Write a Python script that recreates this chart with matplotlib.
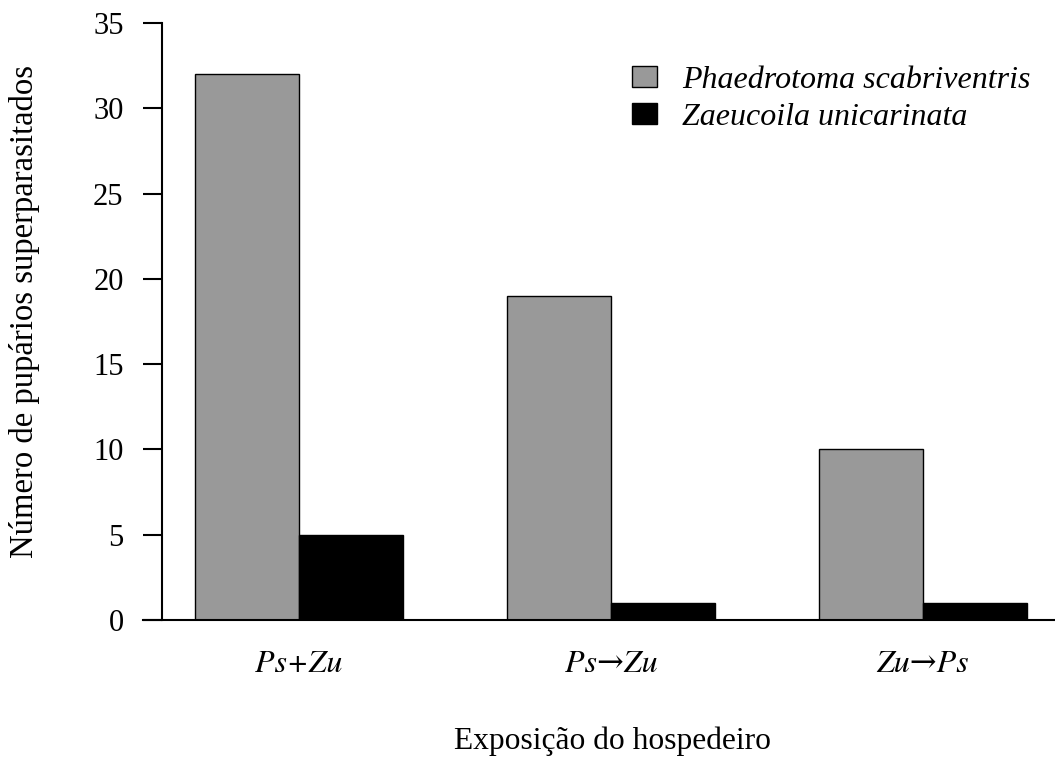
import matplotlib
matplotlib.use("Agg")
import matplotlib.pyplot as plt
import numpy as np

plt.rcParams['font.family'] = ['Liberation Serif', 'DejaVu Serif']

groups = ["Ps+Zu", "Ps\u2192Zu", "Zu\u2192Ps"]
series_names = ["Phaedrotoma scabriventris", "Zaeucoila unicarinata"]
phaedrotoma = [32, 19, 10]
zaeucoila = [5, 1, 1]

fs = 22
fig = plt.figure(figsize=(10.55, 7.7), dpi=100)
ax = fig.add_axes([143 / 1055, 150 / 770, 1 - 143 / 1055, 597 / 770])

# R barplot layout: width 1, space 1 before each group
left = np.array([1, 4, 7])
ax.bar(left, phaedrotoma, width=1, align="edge", color="#999999",
       edgecolor="black", linewidth=1, label=series_names[0])
ax.bar(left + 1, zaeucoila, width=1, align="edge", color="black",
       edgecolor="black", linewidth=1, label=series_names[1])

ax.set_xlim(0.5, 9.27)
ax.set_ylim(0, 35)
ax.axhline(0, color="black", linewidth=1.5, clip_on=False)

for s in ["top", "right", "bottom"]:
    ax.spines[s].set_visible(False)
ax.spines["left"].set_position(("data", 0.683))
ax.spines["left"].set_linewidth(1.5)
ax.set_yticks(range(0, 36, 5))
ax.tick_params(axis="y", length=13.7, width=1.5, pad=14, labelsize=fs)

# STIX has a Times-like italic and a long arrow like the original
ax.set_xticks(left + 1)
ax.set_xticklabels(groups, fontsize=23, fontstyle="italic",
                   fontfamily=["STIXGeneral", "DejaVu Serif"])
ax.tick_params(axis="x", length=0, pad=22)

fig.text(612 / 1055, 1 - 741 / 770, "Exposição do hospedeiro",
         ha="center", va="center", fontsize=22.7)
fig.text(25 / 1055, 1 - 312 / 770, "Número de pupários superparasitados",
         ha="center", va="center", rotation=90, fontsize=23.6)

leg = ax.legend(loc="upper left", bbox_to_anchor=(632 / 1055, 1 - 66 / 770),
                bbox_transform=fig.transFigure, frameon=False,
                prop={"size": 23, "style": "italic"},
                handlelength=0.78, handleheight=0.62, handletextpad=0.8,
                labelspacing=0.25, borderpad=0, borderaxespad=0)

fig.savefig("out.png", dpi=100)
